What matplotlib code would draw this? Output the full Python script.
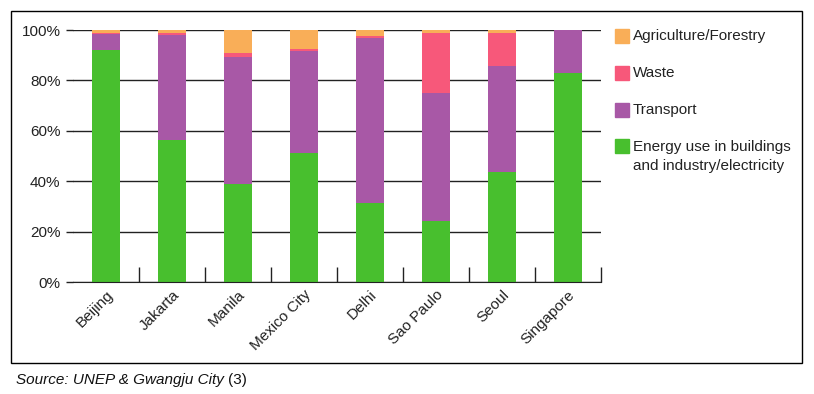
import numpy as np
import matplotlib.pyplot as plt
from matplotlib.patches import Rectangle

plt.rcParams['font.family'] = ['Liberation Sans', 'DejaVu Sans']

cities = ["Beijing", "Jakarta", "Manila", "Mexico City", "Delhi",
          "Sao Paulo", "Seoul", "Singapore"]
energy = [92.2, 56.3, 38.8, 51.1, 31.5, 24.2, 43.7, 82.8]
transport = [6.1, 41.7, 50.6, 40.7, 65.2, 50.9, 42.0, 17.2]
waste = [0.6, 0.7, 1.3, 0.7, 0.9, 23.6, 13.0, 0.0]
agriculture = [1.1, 1.3, 9.3, 7.5, 2.4, 1.3, 1.3, 0.0]

series = [
    ("Energy use in buildings\nand industry/electricity", energy, "#48bf2e"),
    ("Transport", transport, "#a858a6"),
    ("Waste", waste, "#f7587a"),
    ("Agriculture/Forestry", agriculture, "#f9ae58"),
]

W, H = 814, 394
FS = 11
fig = plt.figure(figsize=(W / 100, H / 100), dpi=100)
ax = fig.add_axes([73 / W, 1 - 282 / H, (601 - 73) / W, (282 - 30) / H])

x = np.arange(len(cities))
bottom = np.zeros(len(cities))
for name, vals, color in series:
    ax.bar(x, vals, width=0.42, bottom=bottom, color=color, zorder=3)
    bottom += np.array(vals)

ax.set_xlim(-0.5, len(cities) - 0.5)
ax.set_ylim(0, 100)
ax.set_yticks(np.arange(0, 101, 20))
ax.set_yticklabels([f"{v}%" for v in range(0, 101, 20)], fontsize=FS, color="#222222")
ax.yaxis.grid(True, color="#222222", linewidth=1, zorder=1)
ax.tick_params(axis="y", length=5, width=1, color="#222222", pad=4)

ax.set_xticks(x)
ax.set_xticklabels(cities, rotation=45, ha="right", rotation_mode="anchor",
                   fontsize=FS, color="#222222")
ax.tick_params(axis="x", which="major", length=0, pad=4)
ax.set_xticks(np.arange(0.5, len(cities)), minor=True)
ax.tick_params(axis="x", which="minor", direction="in", length=11, width=1, color="#222222")

for s in ["top", "right", "left"]:
    ax.spines[s].set_visible(False)
ax.spines["bottom"].set_color("#222222")
ax.spines["bottom"].set_zorder(4)

# legend drawn by hand to match the layout
leg_y = [36, 73, 110, 146]
leg_order = [series[3], series[2], series[1], series[0]]
for (name, vals, color), yc in zip(leg_order, leg_y):
    fig.add_artist(Rectangle((615 / W, 1 - (yc + 7) / H), 14 / W, 14 / H,
                             transform=fig.transFigure, color=color))
    if "\n" in name:
        fig.text(633 / W, 1 - (yc - 6) / H, name, fontsize=FS, color="#222222",
                 va="top", linespacing=1.45)
    else:
        fig.text(633 / W, 1 - yc / H, name, fontsize=FS, color="#222222", va="center")

# outer frame
fig.add_artist(Rectangle((11 / W, 1 - 363 / H), (802 - 11) / W, (363 - 11) / H,
                         transform=fig.transFigure, fill=False,
                         edgecolor="black", linewidth=1))

t = fig.text(16 / W, 1 - 380 / H, "Source: UNEP & Gwangju City", fontsize=FS,
             style="italic", va="center", color="#111111")
fig.canvas.draw()
bb = t.get_window_extent()
fig.text((bb.x1 + 4) / W, 1 - 380 / H, "(3)", fontsize=FS, va="center", color="#111111")

fig.savefig("out.png", dpi=100)
